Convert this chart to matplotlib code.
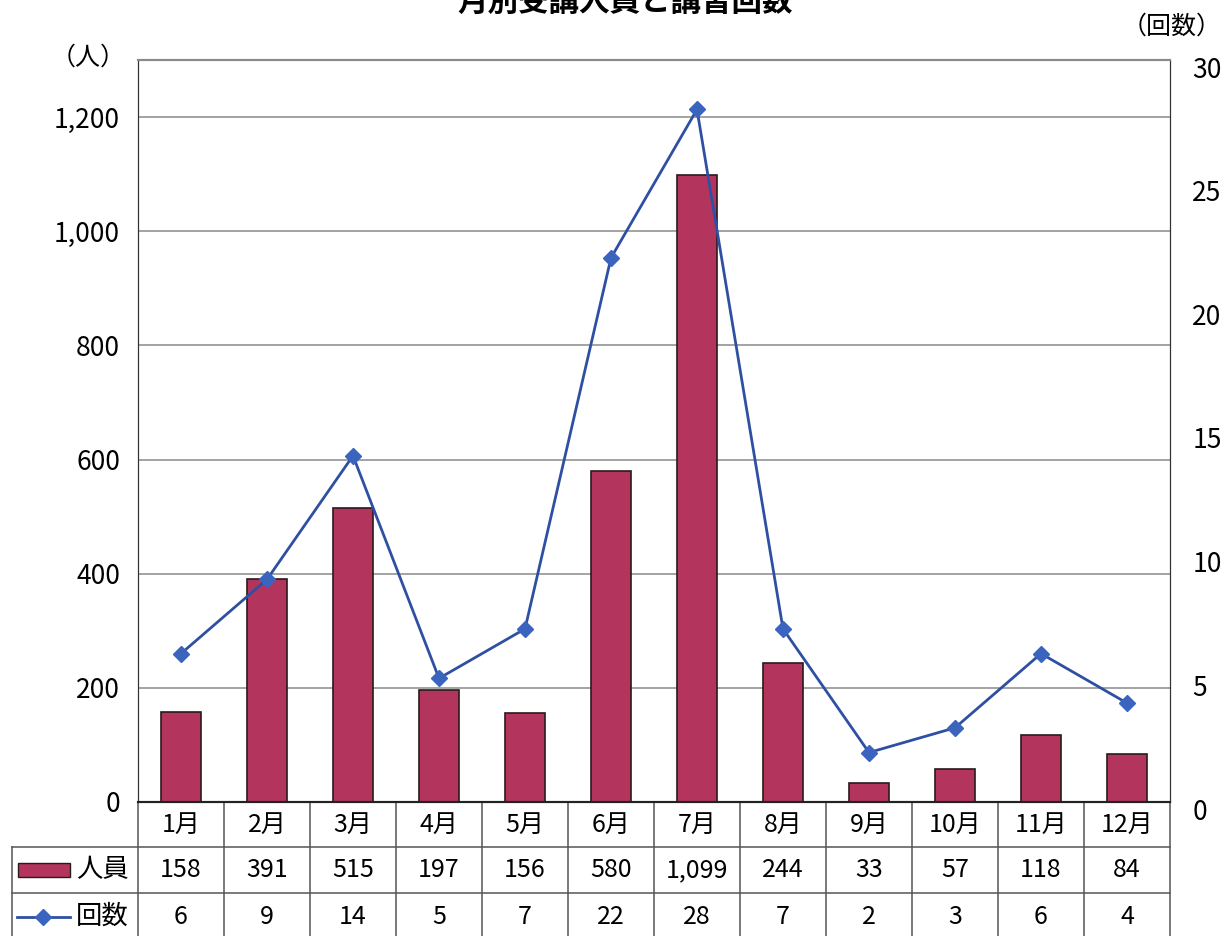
import matplotlib
matplotlib.use('Agg')
import matplotlib.pyplot as plt
from matplotlib.patches import Rectangle
from matplotlib.lines import Line2D
import matplotlib.transforms as mtransforms

plt.rcParams['font.family'] = ['Noto Sans CJK JP', 'DejaVu Sans']

# data
months = ['1月', '2月', '3月', '4月', '5月', '6月', '7月', '8月', '9月', '10月', '11月', '12月']
people = [158, 391, 515, 197, 156, 580, 1099, 244, 33, 57, 118, 84]
sessions = [6, 9, 14, 5, 7, 22, 28, 7, 2, 3, 6, 4]
left_ticks = [0, 200, 400, 600, 800, 1000, 1200]
right_ticks = [0, 5, 10, 15, 20, 25, 30]

bar_color = '#B3355E'
line_color = '#2F50A2'
marker_color = '#3A64BE'
fs = 18

W, H = 1226, 936
fig = plt.figure(figsize=(W / 100, H / 100), dpi=100)
ax_l, ax_r, ax_t, ax_b = 138, 1170, 60, 802
ax = fig.add_axes([ax_l / W, 1 - ax_b / H, (ax_r - ax_l) / W, (ax_b - ax_t) / H])
ax2 = ax.twinx()

x = list(range(len(months)))
ax.bar(x, people, width=0.47, color=bar_color, edgecolor='#2a1a1a', linewidth=1.2, zorder=2)
ax.set_xlim(-0.5, len(months) - 0.5)
ax.set_ylim(0, 1300)
ax.set_yticks(left_ticks)
ax.set_yticklabels([f'{v:,}' for v in left_ticks], fontsize=fs + 1)
ax.set_xticks([])
ax.grid(axis='y', color='#8a8a8a', linewidth=1.1, zorder=0)
ax.tick_params(axis='y', length=0, pad=13)

ax2.plot(x, sessions, color=line_color, linewidth=2, marker='D', markersize=8,
         markerfacecolor=marker_color, markeredgecolor=marker_color, zorder=5)
ax2.set_ylim(0, 30)
ax2.set_yticks(right_ticks)
ax2.set_yticklabels([str(v) for v in right_ticks], fontsize=fs + 1)
ax2.tick_params(axis='y', length=0, pad=16)
shift = mtransforms.ScaledTranslation(0, -7 / 100, fig.dpi_scale_trans)
for lab in ax2.get_yticklabels():
    lab.set_transform(lab.get_transform() + shift)
for a in (ax, ax2):
    a.spines['left'].set_color('#333333')
    a.spines['right'].set_color('#333333')
    a.spines['top'].set_color('#8a8a8a')
    a.spines['top'].set_linewidth(1.5)
    a.spines['bottom'].set_color('#222222')
    a.spines['bottom'].set_linewidth(1.5)

# data table below the plot
trans = mtransforms.blended_transform_factory(ax.transData, ax.transAxes)
col_px = (ax_r - ax_l) / len(months)
plot_h = ax_b - ax_t
row_edges = [0, -45 / plot_h, -91 / plot_h, -138 / plot_h]
label_left = -0.5 - (ax_l - 12) / col_px
grid_kw = dict(color='#555555', linewidth=1.1, transform=trans, clip_on=False)

for i in range(len(months) + 1):
    ax.add_line(Line2D([i - 0.5, i - 0.5], [row_edges[0], row_edges[3]], **grid_kw))
ax.add_line(Line2D([label_left, label_left], [row_edges[1], row_edges[3]], **grid_kw))
for r in row_edges[1:3]:
    ax.add_line(Line2D([label_left, len(months) - 0.5], [r, r], **grid_kw))

def row_mid(k):
    return (row_edges[k] + row_edges[k + 1]) / 2

for i, m in enumerate(months):
    ax.text(i, row_mid(0), m, transform=trans, ha='center', va='center', fontsize=fs, clip_on=False)
    ax.text(i, row_mid(1), f'{people[i]:,}', transform=trans, ha='center', va='center', fontsize=fs, clip_on=False)
    ax.text(i, row_mid(2), str(sessions[i]), transform=trans, ha='center', va='center', fontsize=fs, clip_on=False)

# legend keys inside the table's label column
px = lambda v: v / col_px  # pixel width -> data units
ax.add_patch(Rectangle((label_left + px(6), row_mid(1) - 7 / plot_h), px(52), 14 / plot_h,
                       facecolor=bar_color, edgecolor='#2a1a1a', linewidth=1, transform=trans, clip_on=False))
ax.text(label_left + px(64), row_mid(1), '人員', transform=trans, ha='left', va='center', fontsize=fs + 1,
        clip_on=False)
ax.add_line(Line2D([label_left + px(5), label_left + px(58)], [row_mid(2), row_mid(2)], color=line_color,
                   linewidth=2, transform=trans, clip_on=False))
ax.add_line(Line2D([label_left + px(31)], [row_mid(2)], marker='D', markersize=8, color=marker_color,
                   transform=trans, clip_on=False))
ax.text(label_left + px(64), row_mid(2), '回数', transform=trans, ha='left', va='center', fontsize=fs + 1,
        clip_on=False)

# titles and axis units
fig.text(625 / W, 1 - 2 / H, '月別受講人員と講習回数', ha='center', va='center', fontsize=22,
         fontweight='bold')
fig.text(88 / W, 1 - 58 / H, '（人）', ha='center', va='center', fontsize=fs)
fig.text(1172 / W, 1 - 27 / H, '（回数）', ha='center', va='center', fontsize=fs)

fig.savefig('out.png', dpi=100)
